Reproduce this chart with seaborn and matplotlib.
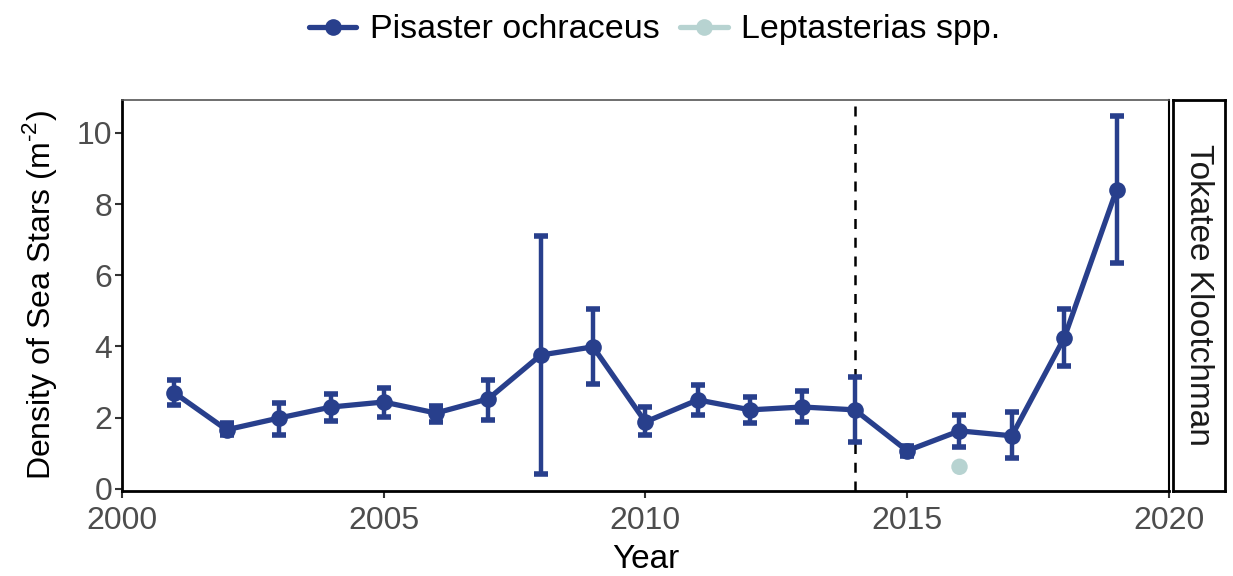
import matplotlib
matplotlib.use("Agg")
import matplotlib.pyplot as plt
import seaborn as sns
import pandas as pd
from matplotlib.lines import Line2D

# Annual mean densities with error-bar bounds
years = [2001, 2002, 2003, 2004, 2005, 2006, 2007, 2008, 2009, 2010,
         2011, 2012, 2013, 2014, 2015, 2016, 2017, 2018, 2019]
pisaster_mean = [2.70, 1.66, 1.99, 2.30, 2.44, 2.13, 2.53, 3.76, 3.99, 1.88,
                 2.50, 2.22, 2.30, 2.22, 1.07, 1.63, 1.49, 4.24, 8.40]
pisaster_low = [2.36, 1.50, 1.52, 1.91, 2.02, 1.88, 1.94, 0.42, 2.95, 1.52,
                2.08, 1.85, 1.88, 1.32, 0.93, 1.18, 0.87, 3.46, 6.35]
pisaster_high = [3.06, 1.85, 2.42, 2.67, 2.84, 2.33, 3.06, 7.11, 5.06, 2.30,
                 2.92, 2.58, 2.75, 3.15, 1.20, 2.08, 2.16, 5.06, 10.48]
lepto_years = [2016]
lepto_mean = [0.62]

species = ["Pisaster ochraceus", "Leptasterias spp."]
colors = ["#283F8C", "#B7D3D1"]
site = "Tokatee Klootchman"
event_year = 2014

sns.set_theme(style="white")
plt.rcParams["font.family"] = ["Liberation Sans", "DejaVu Sans"]
plt.rcParams["mathtext.fontset"] = "custom"
plt.rcParams["mathtext.rm"] = "Liberation Sans"
plt.rcParams["text.color"] = "black"

df_p = pd.DataFrame({"Year": years, "Density": pisaster_mean,
                     "lo": pisaster_low, "hi": pisaster_high})
df_l = pd.DataFrame({"Year": lepto_years, "Density": lepto_mean})

fig = plt.figure(figsize=(12.33, 5.76), dpi=100)
ax = fig.add_axes([0.0989, 0.1476, 0.8491, 0.679])

ax.axvline(event_year, color="black", linestyle=(0, (4, 3.5)), linewidth=1.8, zorder=1)

ax.errorbar(df_p["Year"], df_p["Density"],
            yerr=[df_p["Density"] - df_p["lo"], df_p["hi"] - df_p["Density"]],
            fmt="none", ecolor=colors[0], elinewidth=3.2, capsize=5, capthick=4, zorder=2)
sns.lineplot(data=df_p, x="Year", y="Density", ax=ax, color=colors[0],
             linewidth=3.8, marker="o", markersize=12, markeredgewidth=0, zorder=3)
sns.scatterplot(data=df_l, x="Year", y="Density", ax=ax, color=colors[1],
                s=140, edgecolor="none", zorder=3)

ax.set_xlim(2000, 2020)
ax.set_ylim(-0.06, 10.93)
ax.set_xticks([2000, 2005, 2010, 2015, 2020])
ax.set_yticks([0, 2, 4, 6, 8, 10])
ax.tick_params(axis="both", labelsize=23, labelcolor="#4D4D4D", color="#333333",
               length=5, width=1.5, direction="out", bottom=True, left=True)
ax.tick_params(axis="x", pad=5.5)
ax.tick_params(axis="y", pad=2)
ax.set_xlabel("Year", fontsize=24, color="black", labelpad=6)
ax.set_ylabel("Density of Sea Stars (m$^{\\text{-2}}$)", fontsize=23, color="black",
              labelpad=13)

for side in ["left", "bottom"]:
    ax.spines[side].set_color("black")
    ax.spines[side].set_linewidth(2)
ax.spines["top"].set_color("#555555")
ax.spines["top"].set_linewidth(1.2)
ax.spines["right"].set_color("black")
ax.spines["right"].set_linewidth(1.5)

# Facet strip on the right
sax = fig.add_axes([0.9513, 0.1476, 0.0422, 0.679])
sax.set_xticks([])
sax.set_yticks([])
sax.set_facecolor("white")
for s in sax.spines.values():
    s.set_color("black")
    s.set_linewidth(2)
sax.text(0.5, 0.5, site, rotation=-90, ha="center", va="center",
         fontsize=24, color="#1A1A1A", transform=sax.transAxes)

handles = [Line2D([], [], color=c, linewidth=3.8, marker="o", markersize=12,
                  markeredgewidth=0) for c in colors]
fig.legend(handles, species, loc="center", bbox_to_anchor=(0.531, 0.948),
           ncol=2, frameon=False, fontsize=24.5, handlelength=1.4,
           columnspacing=0.6, handletextpad=0.4, labelcolor="black")

fig.savefig("out.png", dpi=100)
